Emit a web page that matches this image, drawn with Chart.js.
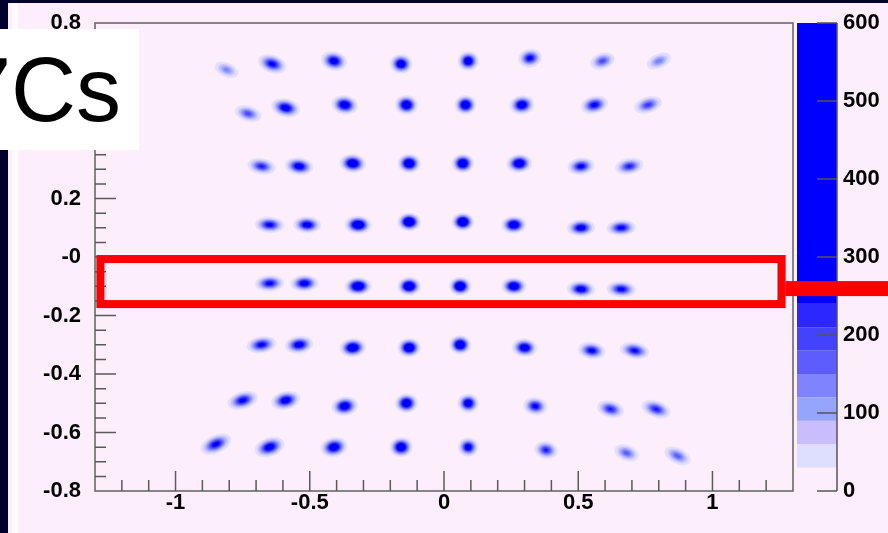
<!DOCTYPE html>
<html>
<head>
<meta charset="utf-8">
<script src="https://cdn.jsdelivr.net/npm/chart.js@4.4.1/dist/chart.umd.min.js"></script>
<style>
  html, body { margin: 0; padding: 0; background: #fdeefc; }
</style>
</head>
<body>
<canvas id="c" width="888" height="533"></canvas>
<script>
// spot centres (top to bottom)
var spotX = [
  -0.81, -0.64, -0.41, -0.16, 0.09, 0.32, 0.59, 0.80,
  -0.73, -0.59, -0.37, -0.14, 0.08, 0.29, 0.56, 0.76,
  -0.68, -0.54, -0.34, -0.13, 0.07, 0.28, 0.51, 0.69,
  -0.65, -0.51, -0.32, -0.13, 0.07, 0.26, 0.51, 0.66,
  -0.65, -0.52, -0.32, -0.13, 0.06, 0.26, 0.51, 0.66,
  -0.68, -0.54, -0.34, -0.13, 0.06, 0.30, 0.55, 0.71,
  -0.75, -0.59, -0.37, -0.14, 0.09, 0.34, 0.62, 0.79,
  -0.85, -0.65, -0.41, -0.16, 0.09, 0.38, 0.68, 0.87
];
var spotY = [
  0.64, 0.66, 0.67, 0.66, 0.67, 0.68, 0.67, 0.67,
  0.49, 0.51, 0.52, 0.52, 0.52, 0.52, 0.52, 0.52,
  0.31, 0.31, 0.32, 0.32, 0.32, 0.32, 0.31, 0.31,
  0.11, 0.11, 0.11, 0.12, 0.12, 0.11, 0.10, 0.10,
  -0.09, -0.09, -0.10, -0.10, -0.10, -0.10, -0.11, -0.11,
  -0.30, -0.30, -0.31, -0.31, -0.30, -0.31, -0.32, -0.32,
  -0.49, -0.49, -0.51, -0.50, -0.50, -0.51, -0.52, -0.52,
  -0.64, -0.65, -0.65, -0.65, -0.65, -0.66, -0.67, -0.68
];
// peak counts per spot
var spotPeak = [
  140, 300, 350, 400, 400, 300, 200, 150,
  200, 350, 400, 450, 450, 400, 300, 220,
  250, 350, 450, 500, 500, 450, 300, 250,
  300, 350, 500, 550, 550, 450, 350, 300,
  300, 350, 500, 550, 550, 450, 350, 300,
  300, 350, 450, 500, 500, 400, 300, 280,
  300, 350, 400, 450, 400, 300, 250, 250,
  300, 350, 400, 450, 350, 250, 180, 180
];

// colour levels of the z palette
var zLevels = [30, 60, 90, 120, 150, 180, 210, 240, 600];
var zColors = ['#dedeff', '#cabdfe', '#95a5fe', '#7f83fe', '#5d5dfe', '#4343fe', '#2c27fe', '#0000ff'];

var xMin = -1.3, xMax = 1.3;
var yMin = -0.8, yMax = 0.8;
var zMin = 0, zMax = 600;

var labelText = '7Cs';
// highlighted band (data units)
var band = { x0: -1.28, x1: 1.257, y0: -0.007, y1: -0.161, yBar: -0.108 };

var tickFont = { family: 'Liberation Sans', size: 22, weight: 'bold' };

var blobCache = {};
function blob(i) {
  if (blobCache[i]) return blobCache[i];
  var x = spotX[i], y = spotY[i], peak = spotPeak[i];
  var sx = 5.4 + 4.2 * Math.abs(x) / 0.85;
  var sy = 4.6 + 0.8 * Math.abs(y) / 0.66;
  var p = 1.6;   // profile exponent, a bit heavier tail than a gaussian
  var k = Math.pow(Math.log(peak / zLevels[0]), 1 / p);
  var w = Math.ceil(sx * k) * 2 + 6, h = Math.ceil(sy * k) * 2 + 6;
  var cv = document.createElement('canvas');
  cv.width = w; cv.height = h;
  var g = cv.getContext('2d');
  g.filter = 'blur(0.7px)';
  for (var j = 0; j < zColors.length; j++) {
    if (zLevels[j] >= peak) break;
    var r = Math.pow(Math.log(peak / zLevels[j]), 1 / p);
    g.fillStyle = zColors[j];
    g.beginPath();
    g.ellipse(w / 2, h / 2, sx * r, sy * r, 0, 0, 2 * Math.PI);
    g.fill();
  }
  blobCache[i] = cv;
  return cv;
}

function isMajorX(v) { return Math.abs(Math.round(v * 10)) % 5 === 0; }
function isMajorY(v) { return Math.abs(Math.round(v * 100)) % 20 === 0; }

var rootPad = {
  id: 'rootPad',
  beforeDraw: function(chart) {
    var ctx = chart.ctx;
    ctx.save();
    ctx.fillStyle = '#fdeefc';
    ctx.fillRect(0, 0, chart.width, chart.height);
    ctx.fillStyle = '#fffafe';
    ctx.fillRect(12, 3, 6, chart.height);
    ctx.fillStyle = '#00002e';
    ctx.fillRect(0, 0, 8, chart.height);
    ctx.fillRect(0, 0, chart.width, 3);
    ctx.restore();
  },
  afterDraw: function(chart) {
    var ctx = chart.ctx, a = chart.chartArea;
    var xs = chart.scales.x, ys = chart.scales.y, zs = chart.scales.z;
    ctx.save();

    // frame
    ctx.strokeStyle = '#6a6a6a';
    ctx.lineWidth = 1.6;
    ctx.strokeRect(a.left, a.top, a.right - a.left, a.bottom - a.top);

    // inward ticks
    ctx.strokeStyle = '#5a5a5a';
    ctx.lineWidth = 1.5;
    ctx.beginPath();
    xs.ticks.forEach(function(t, k) {
      if (t.value <= xs.min + 1e-6 || t.value >= xs.max - 1e-6) return;
      var px = xs.getPixelForTick(k);
      ctx.moveTo(px, a.bottom);
      ctx.lineTo(px, a.bottom - (isMajorX(t.value) ? 20 : 11));
    });
    ys.ticks.forEach(function(t, k) {
      if (t.value <= ys.min + 1e-6 || t.value >= ys.max - 1e-6) return;
      var py = ys.getPixelForTick(k);
      ctx.moveTo(a.left, py);
      ctx.lineTo(a.left + (isMajorY(t.value) ? 21 : 11), py);
    });
    ctx.stroke();

    // colour bar
    var cx0 = zs.left + 4, cx1 = zs.left + 44;
    for (var j = 0; j < zColors.length; j++) {
      var yA = zs.getPixelForValue(zLevels[j]);
      var yB = zs.getPixelForValue(zLevels[j + 1]);
      ctx.fillStyle = zColors[j];
      ctx.fillRect(cx0, yB, cx1 - cx0, yA - yB);
    }
    ctx.strokeStyle = '#555';
    ctx.lineWidth = 1.5;
    ctx.beginPath();
    ctx.moveTo(cx1, zs.top);
    ctx.lineTo(cx1, zs.bottom);
    zs.ticks.forEach(function(t, k) {
      var py = zs.getPixelForTick(k);
      ctx.moveTo(cx1, py);
      ctx.lineTo(cx1 - 20, py);
    });
    ctx.stroke();

    // red highlight
    var rx0 = xs.getPixelForValue(band.x0), rx1 = xs.getPixelForValue(band.x1);
    var ry0 = ys.getPixelForValue(band.y0), ry1 = ys.getPixelForValue(band.y1);
    ctx.strokeStyle = '#ff0000';
    ctx.lineWidth = 8;
    ctx.strokeRect(rx0, ry0, rx1 - rx0, ry1 - ry0);
    ctx.fillStyle = '#ff0000';
    var yb = ys.getPixelForValue(band.yBar);
    ctx.fillRect(rx1 + 4, yb - 7.5, chart.width - rx1, 15);

    // label box
    ctx.fillStyle = '#ffffff';
    ctx.fillRect(0, 29, 139, 121);
    ctx.fillStyle = '#000000';
    ctx.font = '90px "Liberation Sans"';
    ctx.textBaseline = 'alphabetic';
    ctx.textAlign = 'left';
    ctx.fillText(labelText, -39, 121);

    ctx.restore();
  }
};

var points = spotX.map(function(x, i) {
  return { x: x, y: spotY[i], v: spotPeak[i] };
});

new Chart(document.getElementById('c'), {
  type: 'scatter',
  data: {
    datasets: [{
      data: points,
      pointRadius: 6,
      pointStyle: function(ctx) { return blob(ctx.dataIndex); },
      pointRotation: function(ctx) {
        var i = ctx.dataIndex;
        return -25 * spotX[i] * spotY[i] / 0.56;
      }
    }]
  },
  options: {
    responsive: false,
    animation: false,
    events: [],
    layout: { padding: { top: 23, left: 0, right: 0, bottom: 0 } },
    plugins: { legend: { display: false }, tooltip: { enabled: false } },
    scales: {
      x: {
        type: 'linear', position: 'bottom', min: xMin, max: xMax,
        grid: { display: false }, border: { display: false },
        ticks: {
          stepSize: 0.1, autoSkip: false, maxRotation: 0, padding: -9,
          color: '#000', font: tickFont,
          callback: function(v) { return isMajorX(v) ? String(Math.round(v * 10) / 10) : ''; }
        },
        afterFit: function(s) { s.height = 42; }
      },
      y: {
        type: 'linear', position: 'left', min: yMin, max: yMax,
        grid: { display: false }, border: { display: false },
        ticks: {
          stepSize: 0.05, autoSkip: false, padding: 6,
          color: '#000', font: tickFont,
          callback: function(v) {
            if (!isMajorY(v)) return '';
            if (Math.abs(v) < 1e-6) return '-0';
            return String(Math.round(v * 10) / 10);
          }
        },
        afterFit: function(s) { s.width = 95; s.paddingTop = 0; s.paddingBottom = 0; }
      },
      z: {
        type: 'linear', axis: 'y', position: 'right', min: zMin, max: zMax,
        grid: { display: true, drawOnChartArea: false, drawTicks: true, tickLength: 46, color: 'rgba(0,0,0,0)' },
        border: { display: false },
        ticks: { stepSize: 100, padding: 4, color: '#000', font: tickFont },
        afterFit: function(s) { s.width = 95; s.paddingTop = 0; s.paddingBottom = 0; }
      }
    }
  },
  plugins: [rootPad]
});
</script>
</body>
</html>
